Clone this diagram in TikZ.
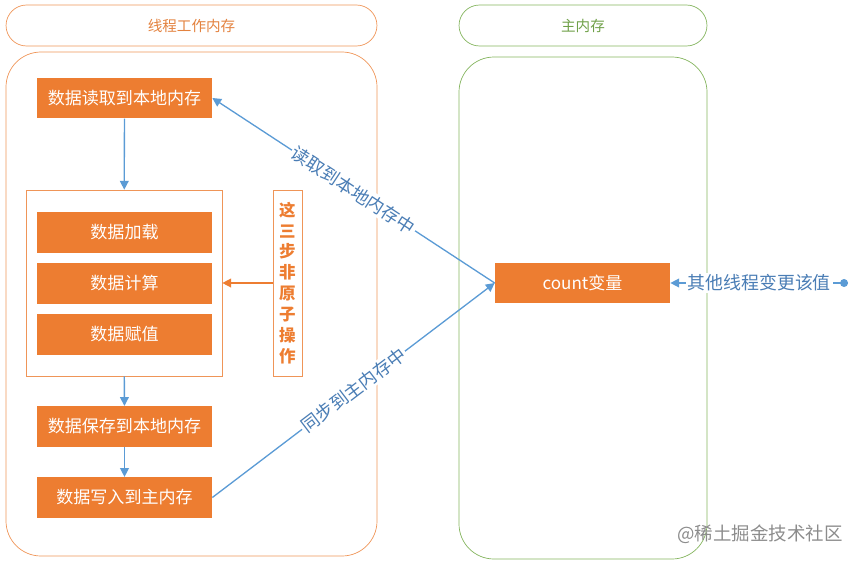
\documentclass[tikz,border=0pt]{standalone}
\usepackage{fontspec}
\setmainfont{Noto Sans CJK SC}
\usetikzlibrary{arrows.meta}
\definecolor{boxorange}{HTML}{ED7D31}
\definecolor{lineorange}{HTML}{EF9558}
\definecolor{titleorange}{HTML}{E3823F}
\definecolor{lineblue}{HTML}{5B9BD5}
\definecolor{textblue}{HTML}{4A7DB5}
\definecolor{memgreen}{HTML}{84B45E}
\definecolor{titlegreen}{HTML}{6FA048}

\begin{document}
\begin{tikzpicture}[x=0.02cm, y=-0.02cm,
    opbox/.style={fill=boxorange, text=white, minimum width=3.5cm, minimum height=0.81cm,
      inner sep=0pt, font=\fontsize{9.7}{12}\selectfont},
    pill/.style={draw, rounded corners=0.41cm, minimum width=7.42cm, minimum height=0.82cm,
      inner sep=0pt, font=\fontsize{8.3}{10}\selectfont},
    link/.style={draw=lineblue, line width=0.75pt, -{Triangle[length=5pt,width=5pt]}},
    lbl/.style={fill=white, text=textblue, inner sep=1pt, font=\fontsize{10.2}{12}\selectfont}]
  \useasboundingbox (0,0) rectangle (858,561);

  % the two memories
  \node[pill, draw=lineorange, text=titleorange] (thr) at (191.5,25.5) {线程工作内存};
  \node[pill, draw=memgreen, text=titlegreen, minimum width=4.96cm] (mainm) at (583,25.5) {主内存};
  \draw[lineorange, rounded corners=0.7cm] (6,52) rectangle (377,556);
  \draw[memgreen, rounded corners=0.7cm] (459,57) rectangle (707,559);

  % steps inside the thread
  \node[opbox] (rd) at (124.5,98) {数据读取到本地内存};
  \node[draw=lineorange, minimum width=3.92cm, minimum height=3.72cm] (grp) at (124,283) {};
  \node[opbox] (ld) at (124.5,232.5) {数据加载};
  \node[opbox] (calc) at (124.5,283.5) {数据计算};
  \node[opbox] (asg) at (124.5,334.5) {数据赋值};
  \node[opbox] (sv) at (124.5,426.5) {数据保存到本地内存};
  \node[opbox] (wr) at (124.5,497.5) {数据写入到主内存};
  \node[draw=lineorange, text=boxorange, minimum width=0.58cm, minimum height=3.72cm,
    inner sep=0pt, align=center, font=\bfseries\fontsize{9.4}{11.9}\selectfont] (nonat) at (287.5,283)
    {这\\三\\步\\非\\原\\子\\操\\作};

  % the shared variable
  \node[opbox] (cnt) at (582.5,283) {count变量};
  \coordinate (other) at (848,283);

  \draw[link] (rd) -- (grp);
  \draw[link] (grp) -- (sv);
  \draw[link] (sv) -- (wr);
  \draw[draw=boxorange, line width=0.75pt, -{Triangle[length=5pt,width=5pt]}] (nonat) -- (grp);
  \draw[link] (cnt.west) -- node[lbl, sloped] {读取到本地内存中} (rd.east);
  \draw[link] (wr.east) -- node[lbl, sloped] {同步到主内存中} (cnt.west);
  \draw[link, {Circle[length=4.5pt]}-{Triangle[length=5pt,width=5pt]}] (other) -- node[lbl] {其他线程变更该值} (cnt.east);

  \node[text=black!45, font=\fontsize{10.5}{12}\selectfont] (mark) at (760,534) {@稀土掘金技术社区};
\end{tikzpicture}
\end{document}
